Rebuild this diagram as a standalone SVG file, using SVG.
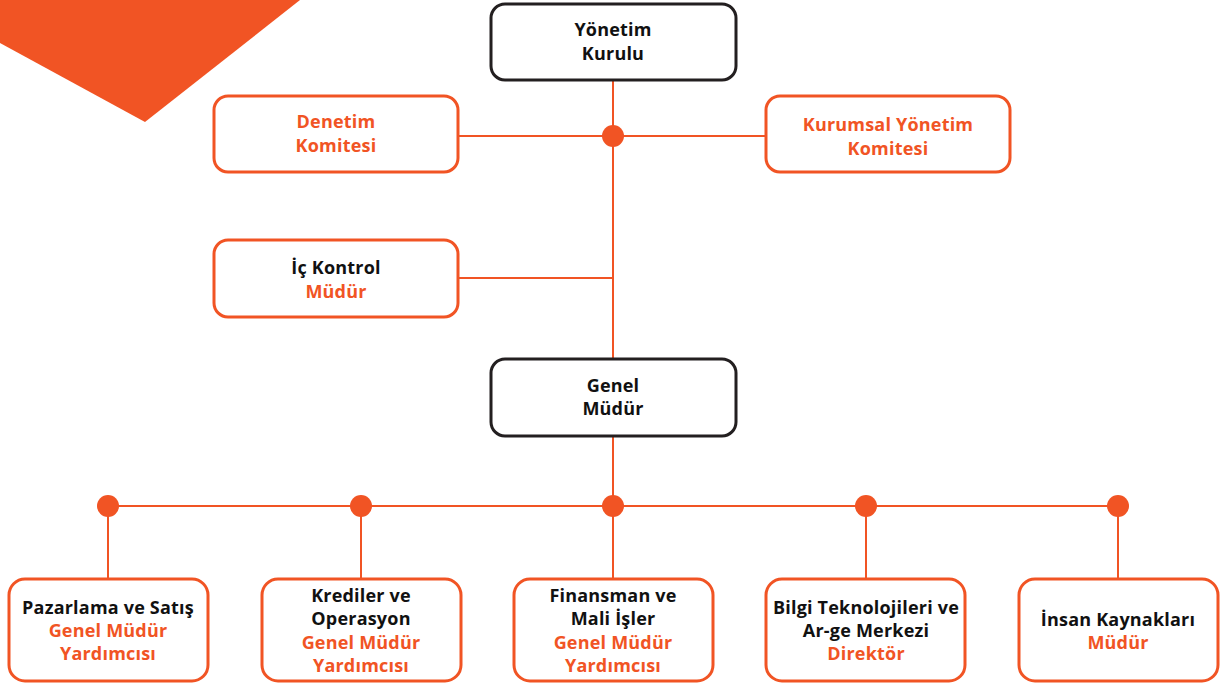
<svg xmlns="http://www.w3.org/2000/svg" width="1229" height="684" viewBox="0 0 1229 684">
<style>
.bk{fill:#fff;stroke:#231f20;stroke-width:3}
.bo{fill:#fff;stroke:#f15424;stroke-width:3}
.ln{stroke:#f15424;stroke-width:2;fill:none}
.dot{fill:#f15424}
text{font-family:"Open Sans","Noto Sans","Liberation Sans",sans-serif;font-weight:700;font-size:18px;letter-spacing:0.2px;text-anchor:middle}
.d{fill:#111}
.o{fill:#f15424}
</style>
<polygon points="0,0 300,0 145,122 0,43" fill="#f15424"/>
<g id="connectors">
<line class="ln" x1="613" y1="80" x2="613" y2="358"/>
<line class="ln" x1="458" y1="136" x2="766" y2="136"/>
<line class="ln" x1="458" y1="278" x2="613" y2="278"/>
<line class="ln" x1="613" y1="436" x2="613" y2="506"/>
<line class="ln" x1="108" y1="506" x2="1118" y2="506"/>
<line class="ln" x1="108" y1="506" x2="108" y2="579"/>
<line class="ln" x1="361" y1="506" x2="361" y2="579"/>
<line class="ln" x1="613" y1="506" x2="613" y2="579"/>
<line class="ln" x1="866" y1="506" x2="866" y2="579"/>
<line class="ln" x1="1118" y1="506" x2="1118" y2="579"/>
<circle class="dot" cx="613" cy="136" r="11"/>
<circle class="dot" cx="108" cy="506" r="11"/>
<circle class="dot" cx="361" cy="506" r="11"/>
<circle class="dot" cx="613" cy="506" r="11"/>
<circle class="dot" cx="866" cy="506" r="11"/>
<circle class="dot" cx="1118" cy="506" r="11"/>
</g>
<g id="yonetim">
<rect class="bk" x="491" y="4" width="245" height="76" rx="14"/>
<text class="d" x="613" y="36">Yönetim</text>
<text class="d" x="613" y="60">Kurulu</text>
</g>
<g id="denetim">
<rect class="bo" x="214" y="96" width="244" height="76" rx="14"/>
<text class="o" x="336" y="128">Denetim</text>
<text class="o" x="336" y="152">Komitesi</text>
</g>
<g id="kurumsal">
<rect class="bo" x="766" y="96" width="244" height="76" rx="14"/>
<text class="o" x="888" y="131">Kurumsal Yönetim</text>
<text class="o" x="888" y="155">Komitesi</text>
</g>
<g id="ickontrol">
<rect class="bo" x="214" y="240" width="244" height="77" rx="14"/>
<text class="d" x="336" y="274">İç Kontrol</text>
<text class="o" x="336" y="298">Müdür</text>
</g>
<g id="genel">
<rect class="bk" x="491" y="359" width="245" height="77" rx="14"/>
<text class="d" x="613" y="392">Genel</text>
<text class="d" x="613" y="415">Müdür</text>
</g>
<g id="pazarlama">
<rect class="bo" x="9" y="579" width="199" height="102" rx="16"/>
<text class="d" x="108" y="614">Pazarlama ve Satış</text>
<text class="o" x="108" y="637">Genel Müdür</text>
<text class="o" x="108" y="660">Yardımcısı</text>
</g>
<g id="krediler">
<rect class="bo" x="262" y="579" width="199" height="102" rx="16"/>
<text class="d" x="361" y="602">Krediler ve</text>
<text class="d" x="361" y="625">Operasyon</text>
<text class="o" x="361" y="649">Genel Müdür</text>
<text class="o" x="361" y="672">Yardımcısı</text>
</g>
<g id="finansman">
<rect class="bo" x="514" y="579" width="199" height="102" rx="16"/>
<text class="d" x="613" y="602">Finansman ve</text>
<text class="d" x="613" y="625">Mali İşler</text>
<text class="o" x="613" y="649">Genel Müdür</text>
<text class="o" x="613" y="672">Yardımcısı</text>
</g>
<g id="bilgi">
<rect class="bo" x="766" y="579" width="199" height="102" rx="16"/>
<text class="d" x="866" y="614">Bilgi Teknolojileri ve</text>
<text class="d" x="866" y="637">Ar-ge Merkezi</text>
<text class="o" x="866" y="660">Direktör</text>
</g>
<g id="insan">
<rect class="bo" x="1019" y="579" width="199" height="102" rx="16"/>
<text class="d" x="1118" y="626">İnsan Kaynakları</text>
<text class="o" x="1118" y="649">Müdür</text>
</g>
</svg>
